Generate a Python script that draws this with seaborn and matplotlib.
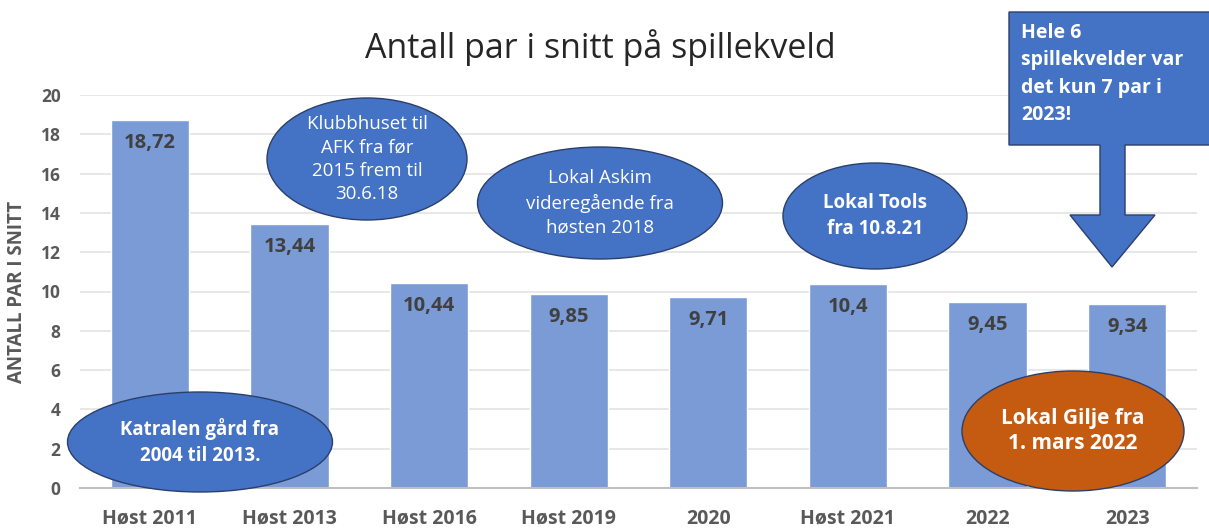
import matplotlib
matplotlib.use("Agg")
import matplotlib.pyplot as plt
import seaborn as sns
import pandas as pd
from matplotlib.patches import Ellipse, Polygon

categories = ["Høst 2011", "Høst 2013", "Høst 2016", "Høst 2019", "2020", "Høst 2021", "2022", "2023"]
values = [18.72, 13.44, 10.44, 9.85, 9.71, 10.4, 9.45, 9.34]
value_labels = ["18,72", "13,44", "10,44", "9,85", "9,71", "10,4", "9,45", "9,34"]
yticks = [0, 2, 4, 6, 8, 10, 12, 14, 16, 18, 20]

sns.set_theme(style="white")
FONT = ["Open Sans", "DejaVu Sans"]
plt.rcParams["font.family"] = FONT

W, H = 1209, 529
fig = plt.figure(figsize=(W / 100, H / 100), dpi=100)
ax = fig.add_axes([80 / W, 1 - 488 / H, (1197 - 80) / W, (488 - 95) / H])

df = pd.DataFrame({"cat": categories, "val": values})
sns.barplot(data=df, x="cat", y="val", color="#7A9BD5", saturation=1, width=0.56, ax=ax)

ax.set_ylim(0, 20)
ax.set_yticks(yticks)
ax.set_xlim(-0.5, len(categories) - 0.5)
ax.yaxis.grid(True, color="#E3E3E3", linewidth=1.2)
ax.set_axisbelow(True)
for s in ["top", "right", "left"]:
    ax.spines[s].set_visible(False)
ax.spines["bottom"].set_color("#BFBFBF")
ax.spines["bottom"].set_linewidth(1.5)
ax.tick_params(axis="both", length=0)
ax.tick_params(axis="x", pad=15)
ax.tick_params(axis="y", pad=14)
for lab in ax.get_xticklabels():
    lab.set_fontsize(14)
    lab.set_fontweight("bold")
    lab.set_color("#595959")
for lab in ax.get_yticklabels():
    lab.set_fontsize(12.5)
    lab.set_fontweight("bold")
    lab.set_color("#595959")
ax.set_xlabel("")
ax.set_ylabel("ANTALL PAR I SNITT", fontsize=13.5, fontweight="bold", color="#595959", labelpad=10)

for i, (v, t) in enumerate(zip(values, value_labels)):
    ax.annotate(t, xy=(i, v), xytext=(0, -23), textcoords="offset pixels",
                ha="center", va="center", fontsize=14.5, fontweight="bold", color="#404040")

fig.text(600 / W, 1 - 48 / H, "Antall par i snitt på spillekveld", ha="center", va="center",
         fontsize=24.5, color="#262626")


def fx(x):
    return x / W


def fy(y):
    return 1 - y / H


def ellipse(cx, cy, w, h, color, text, bold, size=13, spacing=1.35):
    e = Ellipse((fx(cx), fy(cy)), w / W, h / H, transform=fig.transFigure,
                facecolor=color, edgecolor="#2B3F6B", linewidth=1.0, zorder=5)
    fig.add_artist(e)
    fig.text(fx(cx), fy(cy), text, ha="center", va="center", color="white", fontsize=size,
             fontweight="bold" if bold else "normal", linespacing=spacing, zorder=6)


BLUE = "#4472C4"
ellipse(200, 442, 265, 100, BLUE, "Katralen gård fra\n2004 til 2013.", True, size=13.5, spacing=1.35)
ellipse(367, 159, 200, 122, BLUE, "Klubbhuset til\nAFK fra før\n2015 frem til\n30.6.18", False, size=13.5, spacing=1.38)
ellipse(600, 203, 245, 112, BLUE, "Lokal Askim\nvideregående fra\nhøsten 2018", False, size=13.5, spacing=1.42)
ellipse(875, 216, 184, 106, BLUE, "Lokal Tools\nfra 10.8.21", True, size=13.5, spacing=1.4)
ellipse(1073, 431, 222, 120, "#C55A11", "Lokal Gilje fra\n1. mars 2022", True, size=15, spacing=1.25)

# arrow callout
pts = [(1009, 12), (1215, 12), (1215, 145), (1125, 145), (1125, 215), (1155, 215),
       (1112, 267), (1070, 215), (1100, 215), (1100, 145), (1009, 145)]
poly = Polygon([(fx(x), fy(y)) for x, y in pts], closed=True, transform=fig.transFigure,
               facecolor=BLUE, edgecolor="#2B3F6B", linewidth=1.0, zorder=5)
fig.add_artist(poly)
fig.text(fx(1021), fy(74), "Hele 6\nspillekvelder var\ndet kun 7 par i\n2023!", ha="left", va="center",
         color="white", fontsize=14, fontweight="bold", linespacing=1.5, zorder=6)

fig.savefig("out.png", dpi=100)
